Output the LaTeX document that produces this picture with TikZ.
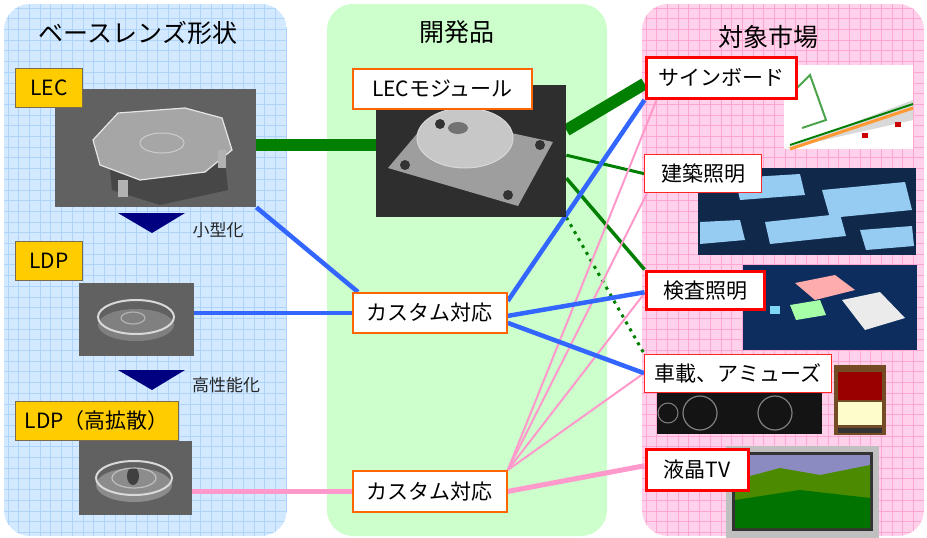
\documentclass[tikz,border=0pt]{standalone}
\usepackage{fontspec}
\setmainfont{Noto Sans CJK JP}
\usetikzlibrary{calc}
\pgfdeclarelayer{bg}
\pgfdeclarelayer{edges}
\pgfsetlayers{bg,edges,main}
\definecolor{lbfill}{HTML}{D2E9FF}
\definecolor{lbgrid}{HTML}{AED4FA}
\definecolor{pkfill}{HTML}{FFD1EA}
\definecolor{pkgrid}{HTML}{FFA6D2}
\definecolor{gnfill}{HTML}{CCFFCC}
\definecolor{yel}{HTML}{FFCC00}
\definecolor{boxgray}{HTML}{7A6A50}
\definecolor{orng}{HTML}{FF6600}
\definecolor{rd}{HTML}{FF0000}
\definecolor{dgreen}{HTML}{007F00}
\definecolor{blu}{HTML}{3366FF}
\definecolor{pnk}{HTML}{FF99CC}
\definecolor{navy}{HTML}{000080}
\definecolor{archbg}{HTML}{10284A}
\definecolor{archpanel}{HTML}{96CBF2}
\definecolor{inspbg}{HTML}{0C2D5E}
\begin{document}
\begin{tikzpicture}[x=1pt,y=-1pt,
  title/.style={font=\fontsize{25}{25}\selectfont, text=black},
  small/.style={font=\fontsize{17}{17}\selectfont, text=black!85},
  lbl/.style={anchor=north west, inner sep=0, font=\fontsize{21}{21}\selectfont},
  ybox/.style={lbl, draw=boxgray, line width=0.8pt, fill=yel, minimum height=39},
  obox/.style={lbl, draw=orng, line width=1.8pt, fill=white, minimum height=39},
  rthick/.style={lbl, draw=rd, line width=3.5pt, fill=white},
  rthin/.style={lbl, draw=rd!85, line width=1.3pt, fill=white},
  photo/.style={anchor=north west, inner sep=0, draw=none},
  gthick/.style={dgreen, line width=12pt},
  gline/.style={dgreen, line width=3.5pt},
  bline/.style={blu, line width=4.5pt},
  pthick/.style={pnk, line width=5pt},
  pthin/.style={pnk, line width=2pt}
]
\useasboundingbox (0,0) rectangle (927,538);

% ---------- panels ----------
\begin{pgfonlayer}{bg}
\fill[white] (0,0) rectangle (927,538);
\begin{scope}
  \clip[rounded corners=26pt] (4,4) rectangle (287,536);
  \fill[lbfill] (4,4) rectangle (287,536);
  \foreach \x in {8,18.7,...,290} \draw[lbgrid, line width=0.8pt] (\x,4) -- (\x,536);
  \foreach \y in {8,18.7,...,540} \draw[lbgrid, line width=0.8pt] (4,\y) -- (287,\y);
\end{scope}
\fill[gnfill, rounded corners=26pt] (327,4) rectangle (607,536);
\begin{scope}
  \clip[rounded corners=26pt] (642,4) rectangle (924,536);
  \fill[pkfill] (642,4) rectangle (924,536);
  \foreach \x in {646,656.7,...,930} \draw[pkgrid, line width=0.8pt] (\x,4) -- (\x,536);
  \foreach \y in {8,18.7,...,540} \draw[pkgrid, line width=0.8pt] (642,\y) -- (924,\y);
\end{scope}
\end{pgfonlayer}

% ---------- titles ----------
\node[title] (t1) at (138,33) {ベースレンズ形状};
\node[title] (t2) at (457,32) {開発品};
\node[title] (t3) at (768,37) {対象市場};

% ---------- photos ----------
% LEC lens
\node[photo, fill=black!62, minimum width=201, minimum height=118] (lecph) at (55,89) {};
\fill[black!72] (110,170) -- (225,160) -- (228,190) -- (160,205) -- (112,190) -- cycle;
\fill[black!35] (93,140) -- (118,113) -- (185,108) -- (222,118) -- (232,150) -- (205,172) -- (140,180) -- (100,165) -- cycle;
\draw[white!90!black, line width=1.2pt] (93,140) -- (118,113) -- (185,108) -- (222,118) -- (232,150) -- (205,172) -- (140,180) -- (100,165) -- cycle;
\draw[white!80!black, line width=1pt] (162,143) ellipse (22 and 10);
\fill[black!30] (118,180) rectangle (128,197);
\fill[black!30] (218,150) rectangle (226,168);
% LDP lens
\node[photo, fill=black!62, minimum width=115, minimum height=73] (ldpph) at (79,283) {};
\fill[black!50] (136,325) ellipse (38 and 16);
\draw[white!85!black, line width=2pt] (136,317) ellipse (38 and 17);
\draw[white!70!black, line width=1.2pt] (133,318) ellipse (12 and 6);
% LDP high diffusion lens
\node[photo, fill=black!62, minimum width=113, minimum height=74] (hdph) at (79,441) {};
\fill[black!45] (134,485) ellipse (38 and 17);
\draw[white!85!black, line width=2pt] (134,478) ellipse (38 and 17);
\fill[black!75] (133,476) ellipse (6 and 9);
\draw[white!75!black, line width=1.2pt] (134,478) ellipse (22 and 10);
% LEC module
\node[photo, fill=black!82, minimum width=190, minimum height=132] (modph) at (376,85) {};
\fill[black!38] (388,168) -- (432,116) -- (553,142) -- (518,206) -- cycle;
\fill[black!22] (465,138) ellipse (48 and 30);
\draw[white!85!black, line width=1pt] (465,138) ellipse (48 and 30);
\fill[black!55] (458,128) ellipse (10 and 6);
\foreach \p in {(405,165),(440,124),(540,145),(508,195)} \fill[black!80] \p circle (5);
% sign board
\node[photo, fill=white, minimum width=129, minimum height=84] (signph) at (784,65) {};
\fill[black!15] (784,149) -- (913,100) -- (913,120) -- (784,149) -- cycle;
\draw[dgreen!70, line width=2pt] (790,95) -- (810,75) -- (826,120) -- (802,128);
\draw[orange!80, line width=3pt] (790,149) -- (913,108);
\draw[dgreen, line width=2pt] (790,145) -- (913,104);
\fill[red!80!black] (862,133) rectangle (868,138);
\fill[red!80!black] (895,122) rectangle (901,127);
% architecture
\node[photo, fill=archbg, minimum width=218, minimum height=87] (archph) at (698,168) {};
\fill[archpanel] (735,178) -- (800,174) -- (805,195) -- (740,200) -- cycle;
\fill[archpanel] (822,190) -- (905,182) -- (912,210) -- (830,218) -- cycle;
\fill[archpanel] (765,222) -- (840,214) -- (846,236) -- (770,244) -- cycle;
\fill[archpanel] (700,222) -- (740,220) -- (745,240) -- (700,244) -- cycle;
\fill[archpanel] (860,230) -- (912,226) -- (914,246) -- (866,250) -- cycle;
% inspection
\node[photo, fill=inspbg, minimum width=174, minimum height=85] (inspph) at (743,265) {};
\fill[pink!90!red] (795,283) -- (835,275) -- (855,290) -- (815,300) -- cycle;
\fill[cyan!50] (770,306) rectangle (780,314);
\fill[green!35] (790,305) -- (820,300) -- (826,315) -- (796,320) -- cycle;
\fill[white!92!black] (842,300) -- (880,292) -- (905,318) -- (865,330) -- cycle;
% car meter
\node[photo, fill=black!92, minimum width=165, minimum height=41] (carph) at (657,393) {};
\draw[black!50, line width=1.2pt] (700,413) circle (17);
\draw[black!50, line width=1.2pt] (775,413) circle (17);
\draw[black!50, line width=1pt] (668,413) circle (10);
% pachinko
\node[photo, fill=brown!60!black, minimum width=52, minimum height=70] (pachph) at (834,365) {};
\fill[red!60!black] (838,372) rectangle (882,400);
\fill[white!80!yellow] (838,402) rectangle (882,425);
\fill[black!80] (838,428) rectangle (882,433);
% TV
\node[photo, fill=black!25, minimum width=153, minimum height=92] (tvph) at (726,446) {};
\fill[black!80] (732,452) rectangle (873,531);
\fill[blue!30!gray!70] (735,455) rectangle (870,480);
\fill[green!35!black!70!yellow] (735,480) -- (780,468) -- (820,475) -- (870,465) -- (870,528) -- (735,528) -- cycle;
\fill[green!45!black] (735,500) -- (800,490) -- (870,498) -- (870,528) -- (735,528) -- cycle;

% ---------- label boxes ----------
\node[ybox, minimum width=67] (lec) at (15,68) {LEC};
\node[ybox, minimum width=67] (ldp) at (15,241) {LDP};
\node[ybox, minimum width=163] (ldph) at (15,401) {LDP（高拡散）};
\node[obox, minimum width=179, minimum height=40] (mod) at (352,68) {LECモジュール};
\node[obox, minimum width=154, minimum height=40] (cus1) at (352,292) {カスタム対応};
\node[obox, minimum width=154, minimum height=41] (cus2) at (352,470) {カスタム対応};
\node[rthick, minimum width=150, minimum height=41] (sign) at (644.5,55.5) {サインボード};
\node[rthin, minimum width=117, minimum height=38] (arch) at (644,154) {建築照明};
\node[rthick, minimum width=118, minimum height=38] (insp) at (644.5,269.5) {検査照明};
\node[rthin, minimum width=187, minimum height=38] (car) at (644,353.5) {車載、アミューズ};
\node[rthick, minimum width=102, minimum height=41] (tv) at (644.5,447.5) {液晶TV};

% ---------- arrows between lens types ----------
\fill[navy] (118,213) -- (185,213) -- (152,233) -- cycle;
\node[small] (sm) at (218,230) {小型化};
\fill[navy] (118,370) -- (185,370) -- (152,390) -- cycle;
\node[small] (hp) at (226,385) {高性能化};

% ---------- connectors ----------
\begin{pgfonlayer}{edges}
\draw[gthick] ([yshift=3pt]lecph.east) -- ([yshift=3pt]lecph.east -| modph.west);
\draw[bline] (lecph.south east) -- ([xshift=6pt]cus1.north west);
\draw[bline] (cus1.west -| ldpph.east) -- (cus1.west);
\draw[pthick] (cus2.west -| hdph.east) -- (cus2.west);
\draw[gthick] ([yshift=21pt]modph.east) -- ([yshift=-6pt]sign.west);
\draw[dgreen, line width=3pt] ([yshift=-4pt]modph.east) -- (arch.west);
\draw[gline] ([yshift=-27pt]modph.east) -- (insp.north west);
\draw[dgreen, line width=3pt, dash pattern=on 3pt off 5pt] (modph.south east) -- (car.north west);
\draw[pthin] (cus2.north east) -- ([xshift=12pt]sign.south west);
\draw[pthin] (cus2.north east) -- ([xshift=3pt]arch.south west);
\draw[pthin] (cus2.north east) -- ([yshift=-3pt]insp.west);
\draw[pthin] (cus2.north east) -- (car.west);
\draw[bline] ([yshift=12pt]cus1.east) -- (sign.south west);
\draw[bline] ([yshift=-3pt]cus1.east) -- ([yshift=-2pt]insp.west);
\draw[bline] ([yshift=-10pt]cus1.east) -- (car.west);
\draw[pthick] (cus2.east) -- ([yshift=4pt]tv.west);
\end{pgfonlayer}
\end{tikzpicture}
\end{document}
